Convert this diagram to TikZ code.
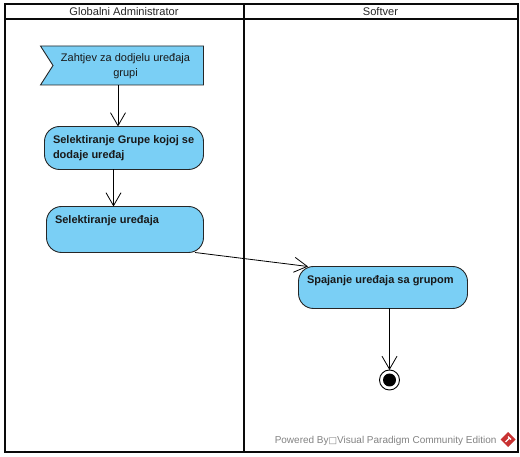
\documentclass[tikz,border=0pt]{standalone}
\usepackage{fontspec}
\setmainfont{Liberation Sans}
\newfontfamily\symfont{DejaVu Sans}
\usetikzlibrary{arrows.meta,shapes.geometric}
\definecolor{actblue}{RGB}{122,207,245}
\definecolor{frameblk}{RGB}{10,10,10}
\definecolor{wmgray}{RGB}{130,130,130}
\definecolor{vpred}{RGB}{200,50,50}
\tikzset{
  x=1pt,y=-1pt,
  every node/.style={outer sep=0pt},
  lanebox/.style={draw=frameblk,line width=2pt,minimum width=#1,inner sep=0pt,anchor=north west},
  laneh/.style={font=\fontsize{11.1}{12}\selectfont,text=black!85},
  action/.style={draw=black!85,line width=0.9pt,fill=actblue,rounded corners=15pt,inner sep=0pt,anchor=north west},
  actlabel/.style={font=\fontsize{11}{15}\selectfont\bfseries,align=left,anchor=north west,inner sep=0pt,text=black!90},
  flow/.style={draw=black,line width=0.8pt,-{Straight Barb[length=13pt,width=15pt,line width=0.8pt]}},
}
\begin{document}
\begin{tikzpicture}
\useasboundingbox (0,0) rectangle (520,457);
% swimlanes
\node[lanebox=239pt,minimum height=447pt] (laneA) at (4.5,4.5) {};
\node[lanebox=274pt,minimum height=447pt] (laneB) at (243.5,4.5) {};
\node[lanebox=239pt,minimum height=15pt,laneh] (headA) at (4.5,4.5) {Globalni Administrator};
\node[lanebox=274pt,minimum height=15pt,laneh] (headB) at (243.5,4.5) {Softver};
% signal
\node[minimum width=163pt,minimum height=39pt,inner sep=0pt,anchor=north west] (sig) at (40.5,46) {};
\draw[draw=black!85,line width=0.9pt,fill=actblue] (sig.north west) -- (sig.north east) -- (sig.south east) -- (sig.south west) -- ([xshift=12.5pt]sig.west) -- cycle;
\node[font=\fontsize{11}{15.5}\selectfont,align=center,inner sep=0pt,text=black!90] (sigl) at (125.5,66) {Zahtjev za dodjelu uređaja\\grupi};
% actions
\node[action,minimum width=159pt,minimum height=43pt] (b1) at (44.5,126.5) {};
\node[actlabel] (b1l) at (53,135.5) {Selektiranje Grupe kojoj se\\dodaje uređaj};
\node[action,minimum width=157pt,minimum height=46pt] (b2) at (46.5,206.5) {};
\node[actlabel] (b2l) at (55,215.5) {Selektiranje uređaja};
\node[action,minimum width=169pt,minimum height=42pt] (b3) at (298.5,266.5) {};
\node[actlabel] (b3l) at (307,275.5) {Spajanje uređaja sa grupom};
% final
\node[circle,draw=black,line width=0.9pt,fill=white,minimum size=20pt,inner sep=0pt] (fin) at (389.5,380) {};
\node[circle,fill=black,minimum size=13pt,inner sep=0pt] (fini) at (fin.center) {};
% connectors
\draw[flow] (118,0 |- sig.south) -- (118,0 |- b1.north);
\draw[flow] (113.5,0 |- b1.south) -- (113.5,0 |- b2.north);
\draw[flow] (195,0 |- b2.south) -- (308,0 |- b3.north);
\draw[flow] (fin.north |- b3.south) -- (fin.north);
% watermark
\node[font=\fontsize{10}{12}\selectfont,text=wmgray,anchor=east,inner sep=0pt] (wm) at (496.5,441) {Powered By{\symfont\fontsize{9}{12}\selectfont □}Visual Paradigm Community Edition};
\node[diamond,fill=vpred,minimum size=15pt,inner sep=0pt] (logo) at (508,439.5) {};
\draw[white,line width=1.3pt] (505.5,442) -- (509.5,438) (508,436.5) -- (511,439.5);
\end{tikzpicture}
\end{document}
